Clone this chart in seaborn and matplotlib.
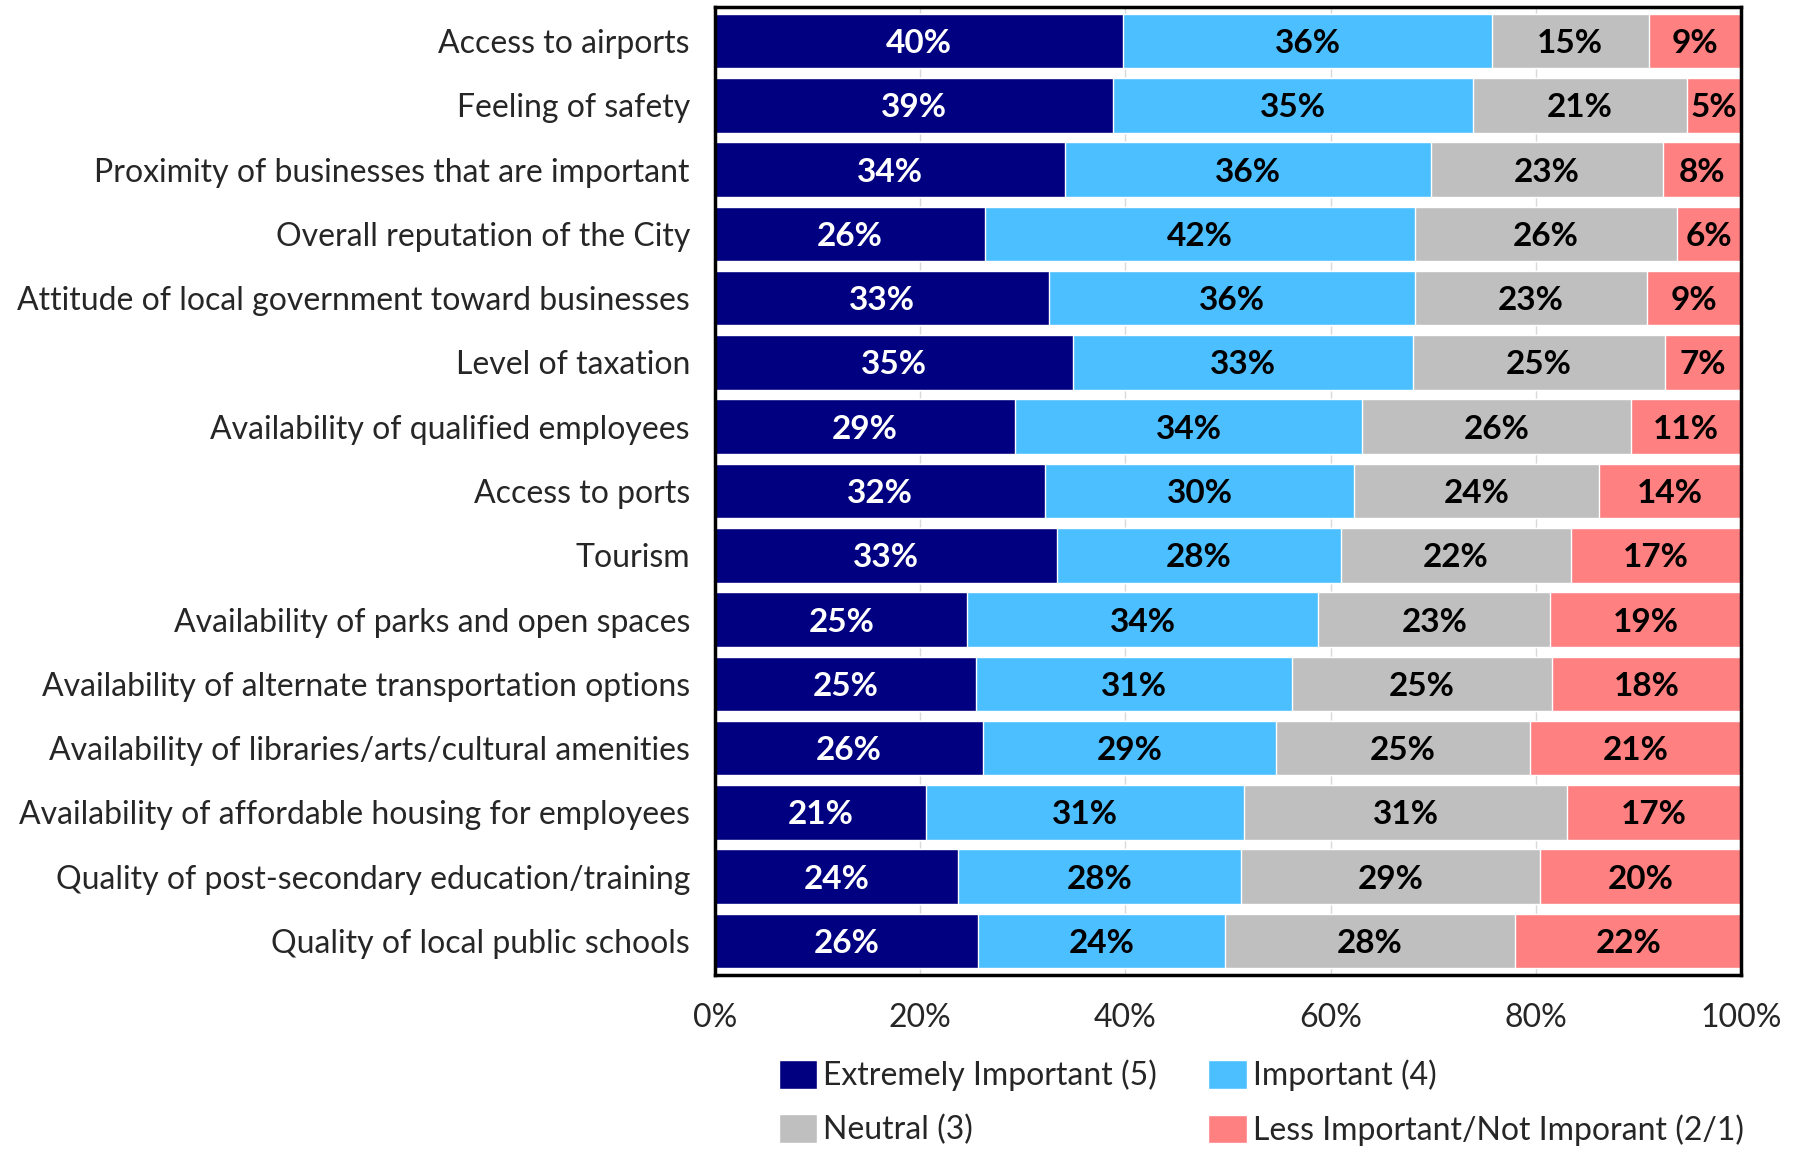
import numpy as np
import pandas as pd
import seaborn as sns
import matplotlib.pyplot as plt
from matplotlib.patches import Patch

factors = [
    "Access to airports",
    "Feeling of safety",
    "Proximity of businesses that are important",
    "Overall reputation of the City",
    "Attitude of local government toward businesses",
    "Level of taxation",
    "Availability of qualified employees",
    "Access to ports",
    "Tourism",
    "Availability of parks and open spaces",
    "Availability of alternate transportation options",
    "Availability of libraries/arts/cultural amenities",
    "Availability of affordable housing for employees",
    "Quality of post-secondary education/training",
    "Quality of local public schools",
]
extremely = [39.8, 38.8, 34.1, 26.3, 32.6, 34.9, 29.2, 32.2, 33.3, 24.6, 25.4, 26.1, 20.6, 23.7, 25.6]
important = [35.9, 35.1, 35.7, 41.9, 35.6, 33.1, 33.9, 30.1, 27.7, 34.2, 30.8, 28.6, 31.0, 27.6, 24.1]
neutral   = [15.3, 20.8, 22.6, 25.6, 22.6, 24.6, 26.2, 23.9, 22.4, 22.6, 25.4, 24.7, 31.4, 29.1, 28.3]
less      = [9.0, 5.3, 7.6, 6.2, 9.2, 7.4, 10.7, 13.8, 16.6, 18.6, 18.4, 20.6, 17.0, 19.6, 22.0]

series = ["Extremely Important (5)", "Important (4)", "Neutral (3)", "Less Important/Not Imporant (2/1)"]
colors = ["#000080", "#4BBFFF", "#BFBFBF", "#FF8080"]
text_colors = ["white", "black", "black", "black"]

sns.set_style("white")
plt.rcParams["font.family"] = ["Lato", "DejaVu Sans"]

df = pd.DataFrame({"factor": factors, series[0]: extremely, series[1]: important,
                   series[2]: neutral, series[3]: less})
vals = df[series].to_numpy()
cum = vals.cumsum(axis=1)

fig = plt.figure(figsize=(18, 11.53), dpi=100)
ax = fig.add_axes([715 / 1800, 1 - 975 / 1153, 1026 / 1800, 968 / 1153])

# stacked bars: overlay cumulative totals, largest first
for i in range(3, -1, -1):
    sns.barplot(x=cum[:, i], y=df["factor"], color=colors[i], orient="h",
                width=0.85, saturation=1, ax=ax, zorder=2)

for r in range(len(factors)):
    for i in range(4):
        v = vals[r, i]
        ax.text(cum[r, i] - v / 2, r, f"{v:.0f}%", ha="center", va="center_baseline",
                color=text_colors[i], fontsize=24, fontweight="bold", zorder=3)

ax.set_xlim(0, 100)
ax.set_ylim(len(factors) - 0.47, -0.53)
ax.set_xticks(range(0, 101, 20))
ax.set_xticklabels([f"{t}%" for t in range(0, 101, 20)])
ax.xaxis.grid(True, color="#D9D9D9", linewidth=1, zorder=0)
ax.set_axisbelow(True)
ax.set_xlabel("")
ax.set_ylabel("")
ax.tick_params(axis="both", length=0, labelsize=23)
ax.tick_params(axis="x", pad=20)
ax.tick_params(axis="y", pad=18)
for s in ax.spines.values():
    s.set_visible(True)
    s.set_color("black")
    s.set_linewidth(2.5)

handles = [Patch(facecolor=colors[i], label=series[i]) for i in [0, 2, 1, 3]]
fig.legend(handles=handles, ncol=2, loc="upper left", bbox_to_anchor=(750 / 1800, 1 - 1031 / 1153),
           frameon=False, fontsize=23, handlelength=1.2, handleheight=1.0,
           handletextpad=0.2, columnspacing=1.6, labelspacing=0.72)

fig.savefig("out.png", dpi=100)
